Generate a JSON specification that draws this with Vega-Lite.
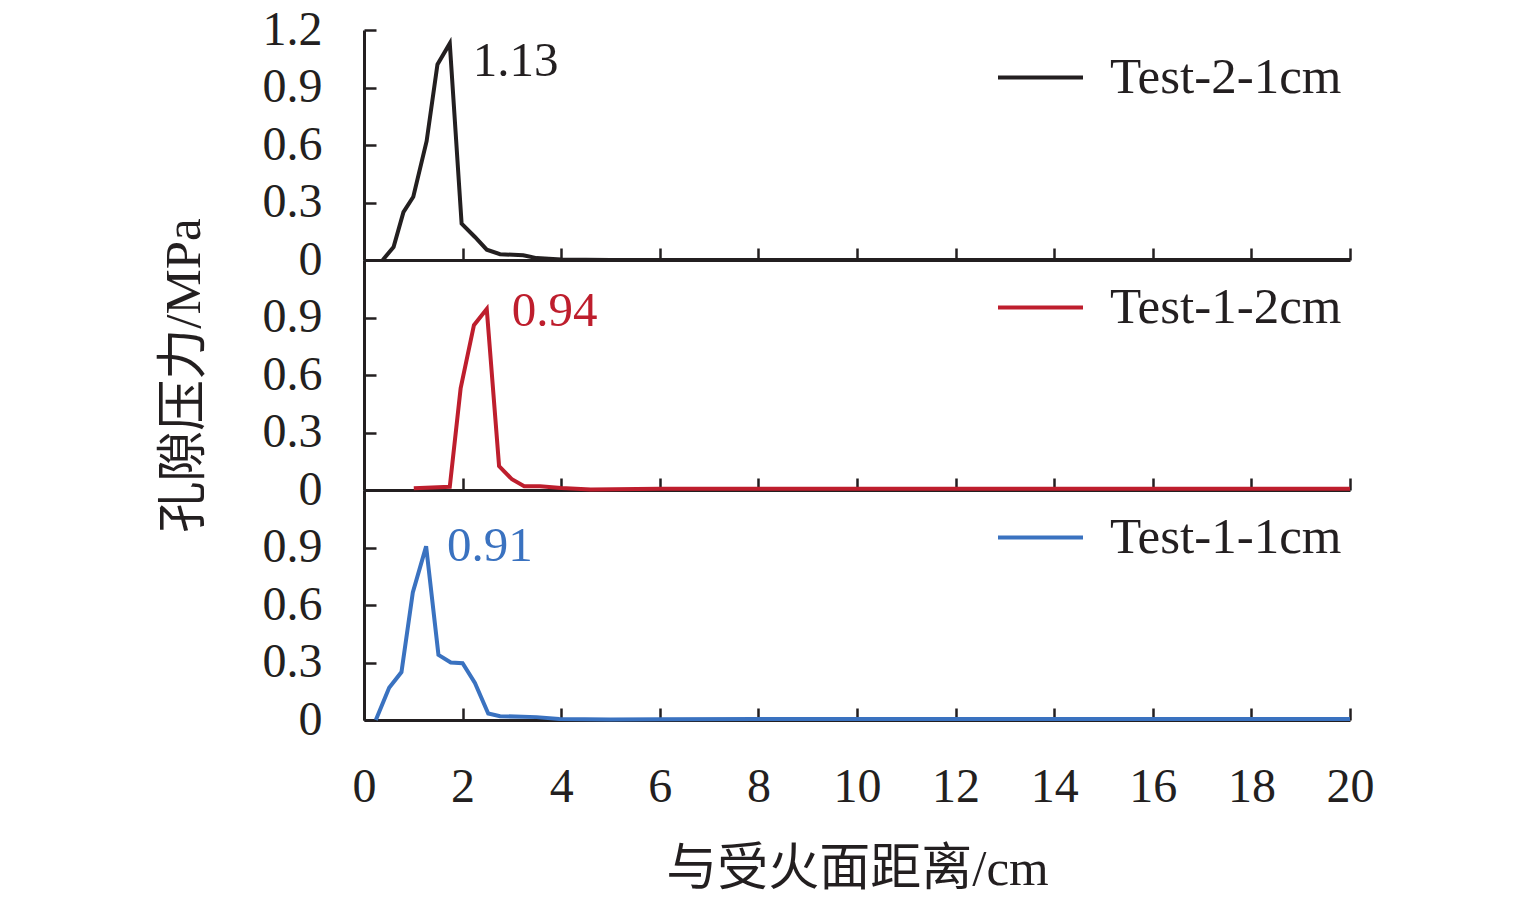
{
  "$schema": "https://vega.github.io/schema/vega-lite/v6.json",
  "background": "white",
  "padding": {"left": 158, "top": 6, "right": 5, "bottom": 5},
  "datasets": {
    "curves": [
      {"series": "Test-2-1cm", "distance": 0.38, "pressure": 0},
      {"series": "Test-2-1cm", "distance": 0.6, "pressure": 0.068},
      {"series": "Test-2-1cm", "distance": 0.8, "pressure": 0.25},
      {"series": "Test-2-1cm", "distance": 1.0, "pressure": 0.33},
      {"series": "Test-2-1cm", "distance": 1.27, "pressure": 0.62},
      {"series": "Test-2-1cm", "distance": 1.49, "pressure": 1.02},
      {"series": "Test-2-1cm", "distance": 1.74, "pressure": 1.13},
      {"series": "Test-2-1cm", "distance": 1.98, "pressure": 0.19},
      {"series": "Test-2-1cm", "distance": 2.25, "pressure": 0.12},
      {"series": "Test-2-1cm", "distance": 2.49, "pressure": 0.054},
      {"series": "Test-2-1cm", "distance": 2.76, "pressure": 0.03},
      {"series": "Test-2-1cm", "distance": 3.23, "pressure": 0.025},
      {"series": "Test-2-1cm", "distance": 3.5, "pressure": 0.01},
      {"series": "Test-2-1cm", "distance": 4.0, "pressure": 0.003},
      {"series": "Test-2-1cm", "distance": 5, "pressure": 0},
      {"series": "Test-2-1cm", "distance": 6, "pressure": 0},
      {"series": "Test-2-1cm", "distance": 8, "pressure": 0},
      {"series": "Test-2-1cm", "distance": 10, "pressure": 0},
      {"series": "Test-2-1cm", "distance": 12, "pressure": 0},
      {"series": "Test-2-1cm", "distance": 14, "pressure": 0},
      {"series": "Test-2-1cm", "distance": 16, "pressure": 0},
      {"series": "Test-2-1cm", "distance": 18, "pressure": 0},
      {"series": "Test-2-1cm", "distance": 20, "pressure": 0},
      {"series": "Test-1-2cm", "distance": 1.01, "pressure": 0.009},
      {"series": "Test-1-2cm", "distance": 1.74, "pressure": 0.017},
      {"series": "Test-1-2cm", "distance": 1.96, "pressure": 0.53},
      {"series": "Test-1-2cm", "distance": 2.23, "pressure": 0.86},
      {"series": "Test-1-2cm", "distance": 2.49, "pressure": 0.944},
      {"series": "Test-1-2cm", "distance": 2.74, "pressure": 0.125},
      {"series": "Test-1-2cm", "distance": 3.0, "pressure": 0.056},
      {"series": "Test-1-2cm", "distance": 3.25, "pressure": 0.02},
      {"series": "Test-1-2cm", "distance": 3.57, "pressure": 0.02},
      {"series": "Test-1-2cm", "distance": 4.0, "pressure": 0.01},
      {"series": "Test-1-2cm", "distance": 4.6, "pressure": 0.003},
      {"series": "Test-1-2cm", "distance": 6, "pressure": 0.006},
      {"series": "Test-1-2cm", "distance": 8, "pressure": 0.006},
      {"series": "Test-1-2cm", "distance": 10, "pressure": 0.006},
      {"series": "Test-1-2cm", "distance": 12, "pressure": 0.006},
      {"series": "Test-1-2cm", "distance": 14, "pressure": 0.006},
      {"series": "Test-1-2cm", "distance": 16, "pressure": 0.006},
      {"series": "Test-1-2cm", "distance": 18, "pressure": 0.006},
      {"series": "Test-1-2cm", "distance": 20, "pressure": 0.006},
      {"series": "Test-1-1cm", "distance": 0.24, "pressure": 0},
      {"series": "Test-1-1cm", "distance": 0.51, "pressure": 0.168},
      {"series": "Test-1-1cm", "distance": 0.76, "pressure": 0.25},
      {"series": "Test-1-1cm", "distance": 0.99, "pressure": 0.665},
      {"series": "Test-1-1cm", "distance": 1.26, "pressure": 0.906},
      {"series": "Test-1-1cm", "distance": 1.51, "pressure": 0.34},
      {"series": "Test-1-1cm", "distance": 1.76, "pressure": 0.30},
      {"series": "Test-1-1cm", "distance": 2.0, "pressure": 0.296},
      {"series": "Test-1-1cm", "distance": 2.25, "pressure": 0.193},
      {"series": "Test-1-1cm", "distance": 2.52, "pressure": 0.034},
      {"series": "Test-1-1cm", "distance": 2.76, "pressure": 0.02},
      {"series": "Test-1-1cm", "distance": 3.5, "pressure": 0.015},
      {"series": "Test-1-1cm", "distance": 3.96, "pressure": 0.005},
      {"series": "Test-1-1cm", "distance": 5, "pressure": 0.002},
      {"series": "Test-1-1cm", "distance": 6, "pressure": 0.004},
      {"series": "Test-1-1cm", "distance": 8, "pressure": 0.005},
      {"series": "Test-1-1cm", "distance": 10, "pressure": 0.005},
      {"series": "Test-1-1cm", "distance": 12, "pressure": 0.005},
      {"series": "Test-1-1cm", "distance": 14, "pressure": 0.005},
      {"series": "Test-1-1cm", "distance": 16, "pressure": 0.005},
      {"series": "Test-1-1cm", "distance": 18, "pressure": 0.005},
      {"series": "Test-1-1cm", "distance": 20, "pressure": 0.005}
    ],
    "peaks": [
      {"series": "Test-2-1cm", "distance": 1.74, "pressure": 1.13, "label": "1.13"},
      {"series": "Test-1-2cm", "distance": 2.49, "pressure": 0.944, "label": "0.94"},
      {"series": "Test-1-1cm", "distance": 1.26, "pressure": 0.906, "label": "0.91"}
    ]
  },
  "spacing": 0,
  "bounds": "flush",
  "resolve": {"scale": {"color": "independent"}, "legend": {"color": "independent"}},
  "vconcat": [
    {
      "width": 986,
      "height": 230,
      "layer": [
        {
          "data": {"name": "curves"},
          "transform": [{"filter": "datum.series === 'Test-2-1cm'"}],
          "mark": {"type": "line", "strokeWidth": 4},
          "encoding": {
            "x": {"field": "distance", "type": "quantitative", "scale": {"domain": [0, 20]},
                  "axis": {"values": [0, 2, 4, 6, 8, 10, 12, 14, 16, 18, 20], "labels": false, "title": null}},
            "y": {"field": "pressure", "type": "quantitative", "scale": {"domain": [0, 1.2]},
                  "axis": {"values": [0, 0.3, 0.6, 0.9, 1.2], "format": "~g", "title": null}},
            "color": {"field": "series", "type": "nominal",
                      "scale": {"domain": ["Test-2-1cm"], "range": ["#231f20"]},
                      "legend": {"orient": "none", "legendX": 632, "legendY": 3}}
          }
        },
        {
          "data": {"name": "peaks"},
          "transform": [{"filter": "datum.series === 'Test-2-1cm'"}],
          "mark": {"type": "text", "align": "left", "baseline": "middle", "dx": 23, "dy": 18, "fontSize": 49, "color": "#231f20"},
          "encoding": {
            "x": {"field": "distance", "type": "quantitative"},
            "y": {"field": "pressure", "type": "quantitative"},
            "text": {"field": "label"}
          }
        }
      ]
    },
    {
      "width": 986,
      "height": 230,
      "layer": [
        {
          "data": {"name": "curves"},
          "transform": [{"filter": "datum.series === 'Test-1-2cm'"}],
          "mark": {"type": "line", "strokeWidth": 4},
          "encoding": {
            "x": {"field": "distance", "type": "quantitative", "scale": {"domain": [0, 20]},
                  "axis": {"values": [0, 2, 4, 6, 8, 10, 12, 14, 16, 18, 20], "labels": false, "title": null}},
            "y": {"field": "pressure", "type": "quantitative", "scale": {"domain": [0, 1.2]},
                  "axis": {"values": [0, 0.3, 0.6, 0.9], "format": "~g", "title": "孔隙压力/MPa"}},
            "color": {"field": "series", "type": "nominal",
                      "scale": {"domain": ["Test-1-2cm"], "range": ["#be1e2d"]},
                      "legend": {"orient": "none", "legendX": 632, "legendY": 3}}
          }
        },
        {
          "data": {"name": "peaks"},
          "transform": [{"filter": "datum.series === 'Test-1-2cm'"}],
          "mark": {"type": "text", "align": "left", "baseline": "middle", "dx": 25, "dy": 2, "fontSize": 49, "color": "#be1e2d"},
          "encoding": {
            "x": {"field": "distance", "type": "quantitative"},
            "y": {"field": "pressure", "type": "quantitative"},
            "text": {"field": "label"}
          }
        }
      ]
    },
    {
      "width": 986,
      "height": 230,
      "layer": [
        {
          "data": {"name": "curves"},
          "transform": [{"filter": "datum.series === 'Test-1-1cm'"}],
          "mark": {"type": "line", "strokeWidth": 4},
          "encoding": {
            "x": {"field": "distance", "type": "quantitative", "scale": {"domain": [0, 20]},
                  "axis": {"values": [0, 2, 4, 6, 8, 10, 12, 14, 16, 18, 20], "title": "与受火面距离/cm", "labelPadding": 55, "titlePadding": 33}},
            "y": {"field": "pressure", "type": "quantitative", "scale": {"domain": [0, 1.2]},
                  "axis": {"values": [0, 0.3, 0.6, 0.9], "format": "~g", "title": null}},
            "color": {"field": "series", "type": "nominal",
                      "scale": {"domain": ["Test-1-1cm"], "range": ["#3a72c0"]},
                      "legend": {"orient": "none", "legendX": 632, "legendY": 3}}
          }
        },
        {
          "data": {"name": "peaks"},
          "transform": [{"filter": "datum.series === 'Test-1-1cm'"}],
          "mark": {"type": "text", "align": "left", "baseline": "middle", "dx": 21, "dy": 0, "fontSize": 49, "color": "#3a72c0"},
          "encoding": {
            "x": {"field": "distance", "type": "quantitative"},
            "y": {"field": "pressure", "type": "quantitative"},
            "text": {"field": "label"}
          }
        }
      ]
    }
  ],
  "config": {
    "font": "Liberation Serif, Noto Sans CJK SC",
    "view": {"stroke": null},
    "text": {"font": "Liberation Serif"},
    "axis": {
      "grid": false,
      "zindex": 1,
      "domainColor": "#231f20",
      "domainWidth": 3,
      "tickColor": "#231f20",
      "tickWidth": 2.5,
      "tickSize": -12,
      "labelColor": "#231f20",
      "labelFont": "Liberation Serif",
      "labelFontSize": 48,
      "labelPadding": 54,
      "labelFlush": false,
      "labelOverlap": false,
      "titleColor": "#231f20",
      "titleFont": "Liberation Serif, Noto Sans CJK SC",
      "titleFontSize": 51,
      "titleFontWeight": "normal",
      "titlePadding": 52
    },
    "legend": {
      "title": null,
      "symbolType": "stroke",
      "symbolSize": 7225,
      "symbolStrokeWidth": 4,
      "labelFont": "Liberation Serif",
      "labelFontSize": 51,
      "labelColor": "#231f20",
      "labelOffset": 25,
      "labelLimit": 0,
      "padding": 0
    }
  }
}
